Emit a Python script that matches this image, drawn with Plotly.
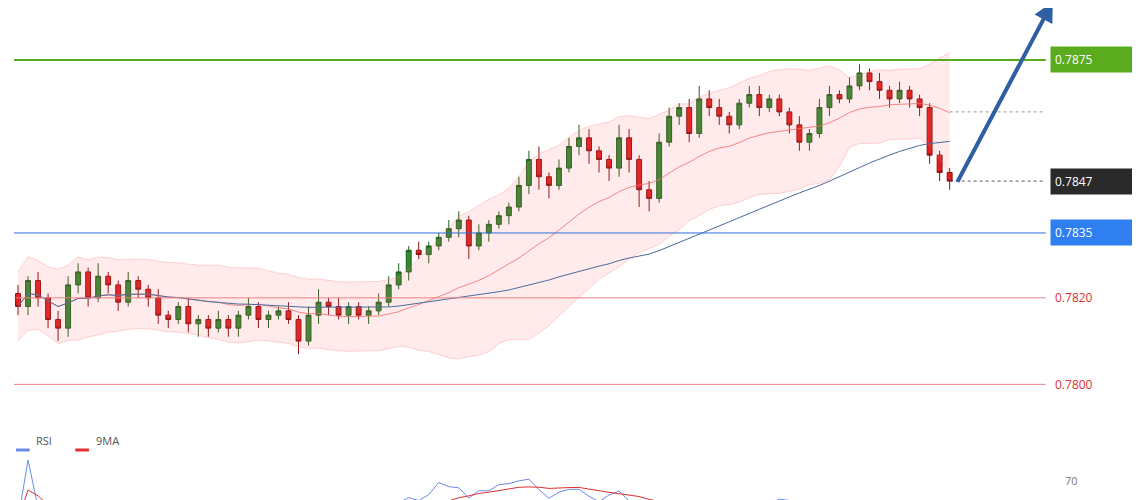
import numpy as np
import pandas as pd
import plotly.graph_objects as go

# closes, one per candle
closes = [0.7818,0.7824,0.7820,0.7815,0.7813,
          0.7823,0.7826,0.7820,0.7825,0.7823,0.7819,0.7824,0.7822,
          0.7820,0.7816,0.7815,0.7818,0.7814,0.7815,0.7813,0.7815,0.7813,0.7816,0.7818,0.7815,0.7816,0.7817,0.7815,
          0.7810,
          0.7816,0.7819,0.7818,0.7816,0.7818,0.7816,0.7817,0.7819,
          0.7823,0.7826,
          0.7831,0.7830,0.7832,0.7834,0.7836,0.7838,0.7832,0.7835,0.7837,
          0.7839,0.7841,0.7846,
          0.7852,0.7848,0.7846,0.7850,
          0.7855,0.7857,0.7854,0.7852,
          0.7850,0.7857,0.7852,0.7845,
          0.7843,0.7856,
          0.7862,0.7864,0.7858,0.7866,0.7864,0.7862,
          0.7860,0.7865,0.7867,0.7864,0.7866,0.7863,0.7860,
          0.7856,0.7858,
          0.7864,0.7867,0.7866,0.7869,0.7872,0.7870,
          0.7868,0.7866,0.7868,0.7866,
          0.7864,0.7853,0.7849,0.7847]
first_open = 0.7821
# wick sizes in pips
wick_up = [2,1,2,1,2,2,2,1,3,1,1,2,1,1,2,1,1,2,1,1,2,1,1,2,1,1,1,2,1,
           2,3,1,2,1,1,1,2,2,2,1,2,1,1,2,2,1,2,1,1,1,2,2,3,1,2,
           2,3,2,1,1,3,2,1,2,2,2,1,2,3,2,2,1,1,2,2,1,1,1,2,1,
           2,2,1,2,2,1,2,1,2,1,1,1,1,1]
wick_dn = [2,2,2,2,3,2,2,2,1,2,2,1,2,2,2,2,1,2,3,2,1,2,2,1,2,2,1,1,3,
           1,2,2,1,2,1,2,1,1,1,2,1,2,1,1,2,3,1,2,1,2,1,2,3,3,1,
           1,2,3,3,3,2,3,4,3,1,1,2,2,1,2,2,2,1,1,2,1,1,2,2,2,
           1,2,1,1,1,2,2,2,1,2,2,2,2,2]

levels = [0.7875, 0.7835, 0.7820, 0.7800]
last_price = 0.7847
dotted_level = 0.7863

opens = [first_open] + closes[:-1]
highs = [max(o, c) + u / 10000 for o, c, u in zip(opens, closes, wick_up)]
lows = [min(o, c) - d / 10000 for o, c, d in zip(opens, closes, wick_dn)]
x = list(range(len(closes)))

s = pd.Series(closes)
mid = s.rolling(20, min_periods=1).mean()
sd = s.rolling(20, min_periods=2).std().fillna(0.0004).clip(lower=0.0004)
upper = mid + 2 * sd
lower = mid - 2 * sd
ma50 = s.rolling(50, min_periods=1).mean()

delta = s.diff().fillna(0)
gain = delta.clip(lower=0).rolling(14, min_periods=1).mean() + 1e-4
loss = (-delta.clip(upper=0)).rolling(14, min_periods=1).mean() + 1e-4
rsi = 100 - 100 / (1 + gain / loss)
rsi_ma = rsi.rolling(9, min_periods=1).mean()

fig = go.Figure()
fig.add_trace(go.Scatter(x=x, y=upper, mode='lines', line=dict(color='rgba(255,120,120,0.3)', width=1), hoverinfo='skip'))
fig.add_trace(go.Scatter(x=x, y=lower, mode='lines', line=dict(color='rgba(255,120,120,0.3)', width=1),
                         fill='tonexty', fillcolor='rgba(255,100,100,0.13)', hoverinfo='skip'))
fig.add_trace(go.Scatter(x=x, y=mid, mode='lines', line=dict(color='rgba(240,110,110,0.8)', width=1)))
fig.add_trace(go.Scatter(x=x, y=ma50, mode='lines', line=dict(color='#4a6a9a', width=1)))
fig.add_trace(go.Candlestick(x=x, open=opens, high=highs, low=lows, close=closes,
                             increasing=dict(line=dict(color='#1f5f1f', width=1), fillcolor='#2e8b2e'),
                             decreasing=dict(line=dict(color='#8a1010', width=1), fillcolor='#e02020'),
                             whiskerwidth=0))
fig.add_trace(go.Scatter(x=x, y=rsi, mode='lines', line=dict(color='#6a8ae8', width=1), xaxis='x2', yaxis='y2'))
fig.add_trace(go.Scatter(x=x, y=rsi_ma, mode='lines', line=dict(color='#e03030', width=1), xaxis='x2', yaxis='y2'))

xr = [-1.0, 112.8]
xend = 102.6
line_cols = ['#5aab1e', '#2f6fd8', '#f08080', '#f08080']
for lv, col in zip(levels, line_cols):
    fig.add_shape(type='line', x0=-0.4, x1=xend, y0=lv, y1=lv, line=dict(color=col, width=2 if lv == 0.7875 else 1))
fig.add_shape(type='line', x0=93, x1=xend, y0=last_price, y1=last_price, line=dict(color='#555', width=1, dash='dot'))
fig.add_shape(type='line', x0=93, x1=xend, y0=dotted_level, y1=dotted_level, line=dict(color='#999', width=1, dash='dot'))

def label(y, text, bg=None, fg='white'):
    fig.add_annotation(x=103, y=y, xanchor='left', text=text, showarrow=False,
                       font=dict(family='Open Sans', size=12, color=fg), bgcolor=bg,
                       borderpad=4, width=74, align='left')

label(0.7875, '0.7875', '#5aab1e')
label(0.7835, '0.7835', '#2f7ff0')
label(last_price, '0.7847', '#2a2a2a')
label(0.7820, '0.7820', None, '#e03030')
label(0.7800, '0.7800', None, '#e03030')
fig.add_shape(type='rect', x0=103.1, x1=111.8, y0=0.78871, y1=0.78920, fillcolor='#5aab1e', line=dict(width=0))

fig.add_annotation(x=103.3, y=0.78885, ax=93.7, ay=0.78465, xref='x', yref='y', axref='x', ayref='y',
                   showarrow=True, arrowhead=2, arrowsize=1, arrowwidth=4, arrowcolor='#2e5fa3', text='')

leg_y = 0.116
fig.add_shape(type='line', xref='paper', yref='paper', x0=0.007, x1=0.019, y0=leg_y, y1=leg_y, line=dict(color='#6a8ae8', width=3))
fig.add_shape(type='line', xref='paper', yref='paper', x0=0.059, x1=0.071, y0=leg_y, y1=leg_y, line=dict(color='#e03030', width=3))
fig.add_annotation(xref='paper', yref='paper', x=0.023, y=leg_y, text='RSI', showarrow=False, xanchor='left', font=dict(size=11, color='#555'))
fig.add_annotation(xref='paper', yref='paper', x=0.075, y=leg_y, text='9MA', showarrow=False, xanchor='left', font=dict(size=11, color='#555'))
fig.add_annotation(x=104.3, y=70, xref='x2', yref='y2', text='70', showarrow=False, xanchor='left', font=dict(size=11, color='#777'))

fig.update_layout(width=1140, height=500, margin=dict(l=0, r=0, t=0, b=0),
                  paper_bgcolor='white', plot_bgcolor='white', showlegend=False,
                  font=dict(family='Open Sans'),
                  xaxis=dict(range=xr, visible=False, rangeslider=dict(visible=False)),
                  xaxis2=dict(range=xr, visible=False, anchor='y2'),
                  yaxis=dict(range=[0.777141, 0.788702], visible=False, domain=[0, 1]),
                  yaxis2=dict(range=[56, 95], visible=False, domain=[0, 0.156], anchor='x2'))
fig.write_html("out.html")
